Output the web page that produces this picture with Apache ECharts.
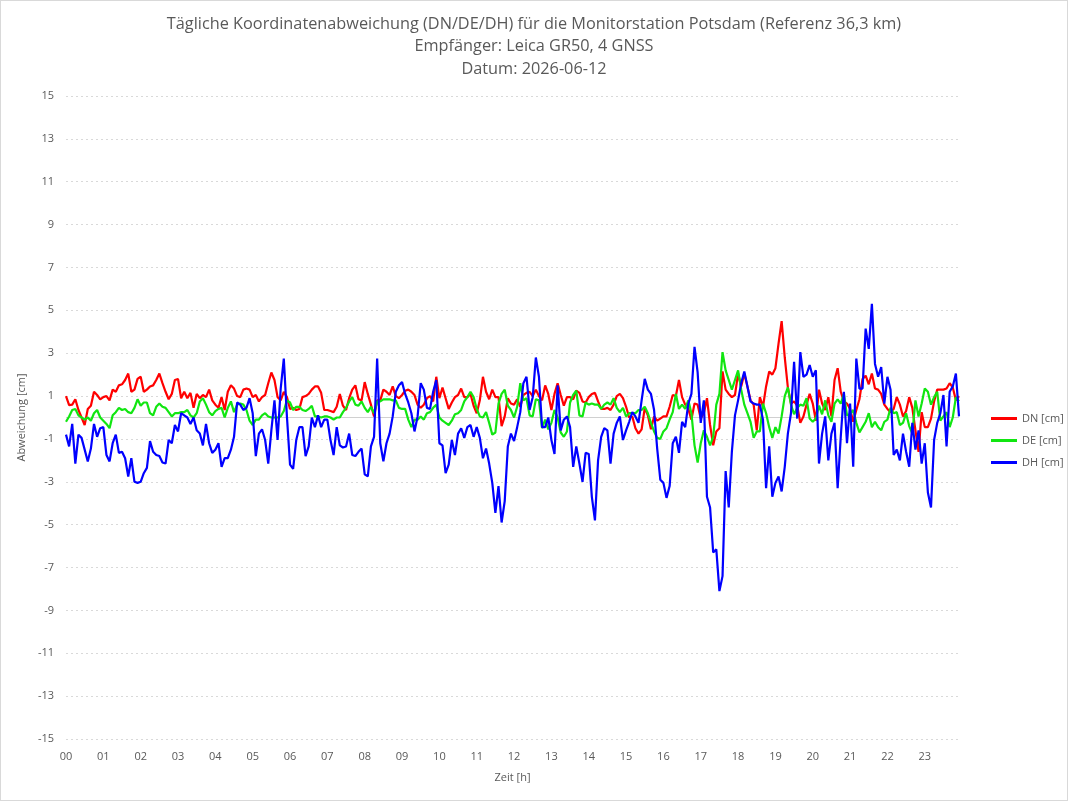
<!DOCTYPE html>
<html>
<head>
<meta charset="utf-8">
<script src="https://cdn.jsdelivr.net/npm/echarts@6/dist/echarts.min.js"></script>
<style>
  html, body { margin: 0; padding: 0; background: #fff; }
  #chart { width: 1068px; height: 801px; box-sizing: border-box; border: 1px solid #d9d9d9; }
</style>
</head>
<body>
<div id="chart"></div>
<script>
// 5-Minuten-Werte, 288 je Reihe
const DN = [
  1.0, 0.58, 0.6, 0.85, 0.35, 0, -0.35, 0.4, 0.55, 1.2, 1.05, 0.85, 0.95, 1.0, 0.8, 1.3, 1.2, 1.5, 1.55, 1.75, 2.05, 1.2, 1.3, 1.8,
  1.9, 1.2, 1.3, 1.45, 1.5, 1.75, 2.05, 1.6, 1.2, 0.85, 1.1, 1.75, 1.8, 0.9, 1.2, 0.9, 1.15, 0.45, 1.1, 0.9, 1.05, 0.95, 1.3,
  0.8, 0.6, 0.45, 0.95, 0.35, 1.2, 1.5, 1.35, 1.0, 0.95, 1.3, 1.35, 1.3, 0.95, 1.05, 0.75, 0.95, 1.05, 1.6, 2.1, 1.75, 0.95, 0.8,
  1.2, 0.95, 0.4, 0.45, 0.35, 0.4, 0.95, 1.0, 1.1, 1.3, 1.45, 1.45, 1.15, 0.35, 0.35, 0.3, 0.25, 0.5, 1.1, 0.55, 0.35, 0.9, 1.3,
  1.5, 0.85, 0.8, 1.65, 1.1, 0.6, 0.05, 0.8, 0.8, 1.3, 1.2, 1.05, 1.45, 1.0, 0.9, 1.05, 1.25, 1.3, 1.2, 1.05, 0.6, 0.45, 0.6,
  0.9, 1.0, 0.75, 1.9, 0.9, 1.4, 0.9, 0.4, 0.7, 0.95, 1.05, 1.35, 0.95, 0.95, 1.1, 0.55, 0.2, 0.8, 1.9, 1.2, 0.85, 1.3, 0.95, 0.95,
  -0.4, 0.05, 0.9, 0.65, 0.6, 0.85, 0.5, 1.05, 1.15, 1.2, 1.0, 1.3, 1.0, 0.8, 1.5, 1.1, 0.35, 1.1, 1.6, 1.05, 0.55, 0.95, 0.95,
  0.85, 1.25, 1.15, 0.75, 0.7, 0.95, 1.1, 1.15, 0.75, 0.4, 0.4, 0.45, 0.35, 0.6, 1.0, 1.1, 0.9, 0.5, 0, 0.05, -0.5, -0.75, -0.55,
  0.45, 0.1, -0.55, 0.05, -0.15, -0.05, 0.05, 0.05, 0.5, 1.05, 1.0, 1.75, 0.95, 0.6, 0.4, -0.1, 0.65, 0.6, -0.05, 0.2, 0.9, -0.35,
  -1.3, -0.65, -0.5, 2.15, 1.3, 1.1, 0.95, 1.05, 2.05, 1.45, 2.05, 1.45, 0.8, 0.6, -0.6, 0.95, 0.5, 1.45, 2.15, 2.0, 2.3, 3.45, 4.5, 2.8, 1.4,
  0.65, 0.75, 0.55, -0.25, 0.05, 0.6, 1.1, 0.65, -0.15, 1.3, 0.65, 0.35, 0.95, 0.05, 1.75, 2.3, 1.2, 0.75, 0.65, 0.4, -0.2, 0.35,
  0.85, 1.8, 1.95, 1.55, 2.05, 1.35, 1.3, 1.1, 0.6, 0.4, 0.25, 0.4, 0.95, 0.6, 0.05, 0.3, 0.95, 0.45, -0.6, -1.6, 0.25, -0.45,
  -0.45, -0.05, 0.75, 1.3, 1.3, 1.3, 1.35, 1.6, 1.4, 0.8, 1.0
];
const DE = [
  -0.2, 0.05, 0.35, 0.4, 0.1, 0, -0.1, 0, -0.15, 0.2, 0.35, 0, -0.15, -0.3, -0.5, 0.1, 0.25, 0.45, 0.35, 0.4, 0.25, 0.2, 0.45, 0.85,
  0.55, 0.7, 0.7, 0.2, 0.1, 0.5, 0.65, 0.5, 0.45, 0.25, 0.05, 0.2, 0.2, 0.25, 0.25, 0.35, 0.1, 0, 0.2, 0.75, 0.9, 0.6, 0.25,
  0.1, 0.3, 0.4, 0.45, 0, 0.45, 0.75, 0.25, 0.6, 0.65, 0.6, 0.35, -0.15, -0.35, -0.1, -0.1, 0.1, 0.2, 0.05, 0, 0, 0, 0.05,
  0.3, 0.8, 0.7, 0.35, 0.5, 0.5, 0.35, 0.3, 0.4, 0.55, 0.05, 0.05, 0, 0.05, 0.05, 0, -0.1, 0, 0, 0.25, 0.45, 0.75, 0.95,
  0.6, 0.55, 0.75, 0.45, 0.25, 0.5, 0.2, 0.75, 0.75, 0.85, 0.85, 0.85, 0.8, 0.8, 0.45, 0.4, 0.4, -0.1, -0.45, -0.1, -0.1, 0.05, -0.1,
  0.2, 0.25, 0.45, 0.6, 0, -0.15, -0.25, -0.35, -0.15, 0.15, 0.2, 0.35, 0.75, 0.95, 1.2, 0.95, 0.4, 0.05, 0, 0.25, -0.25, -0.8, -0.7, 0.65,
  1.1, 1.3, 0.55, 0.35, 0, 0.5, 1.6, 0.8, 0.9, 0.1, 0.05, 0.85, 0.8, -0.5, -0.1, -0.55, -0.25, 0.35, 0, -0.7, -0.9, -0.65, 0.7,
  1.05, 1.25, 0.1, 0.05, 0.7, 0.6, 0.65, 0.6, 0.6, 0.4, 0.6, 0.7, 0.6, 0.9, 0.45, 0.25, 0.45, 0.05, 0.2, 0.2, 0.2, 0.35, 0.35,
  0.5, 0.2, -0.25, -0.65, -0.95, -1.0, -0.65, -0.5, -0.1, 0.25, 1.1, 0.4, 0.6, 0.4, 0.8, 0.2, -1.3, -2.1, -1.2, -0.6, -0.9, -1.3,
  -0.9, 0.6, 1.1, 3.05, 2.2, 1.75, 1.3, 1.75, 2.2, 1.3, 0.6, 0.2, -0.2, -0.95, -0.65, -0.65, 0.65, 0.2, -0.45, -0.95, -0.45, -0.75, 0.05, 1.0, 1.4,
  0.6, 0.15, 0.45, 0.6, 0.55, 0.9, -0.05, -0.2, -0.05, 0.55, 0.15, 0.8, 0.1, -0.2, 0.65, 0.85, 0.65, 1.1, 0.1, 0.15, 0.35, -0.25,
  -0.7, -0.45, -0.2, 0.2, -0.45, -0.2, -0.45, -0.6, -0.2, -0.1, 0.45, 0.2, 0.25, -0.35, -0.25, 0.2, -0.4, -0.75, 0.8, 0.05, 0.65,
  1.35, 1.2, 0.6, 0.95, 1.2, -0.15, 0.05, 0.25, -0.45, 0, 0.95, 0.75
];
const DH = [
  -0.8, -1.35, -0.3, -2.15, -0.8, -0.95, -1.5, -2.05, -1.45, -0.3, -0.9, -0.5, -0.45, -1.75, -2.05, -1.2, -0.8, -1.65, -1.6, -1.9,
  -2.75, -1.9, -3.0, -3.05, -3.0, -2.6, -2.35, -1.1, -1.6, -1.75, -1.8, -2.1, -2.15, -1.05, -1.2, -0.35, -0.65, 0.2, 0.1, 0, -0.3,
  0, -0.6, -0.75, -1.3, -0.3, -1.2,
  -1.65, -1.5, -1.2, -2.3, -1.9, -1.9, -1.5, -0.9, 0.7, 0.6, 0.35, 0.45, 0.9, 0.2, -1.8, -0.75, -0.55, -1.05, -2.15, -0.6, 0.8,
  -1.05, 1.35, 2.75, 0.05, -2.2, -2.4, -1.05, -0.45, -0.45, -1.8, -1.35, 0, -0.45, 0.1, -0.45, -0.1, -0.1, -1.05, -1.75, -0.45,
  -1.3, -1.4, -1.35, -0.75, -1.75,
  -1.8, -1.6, -1.45, -2.65, -2.75, -1.35, -0.9, 2.75, -1.2, -2.05, -1.2, -0.75, 0.05, 1.2, 1.5, 1.65, 1.1, 0.7, 0.2, -0.65, 0.05,
  1.6, 1.3, 0.45, 0.4, 1.2, 1.75, -1.2, -1.3, -2.6, -2.2, -1.05, -1.75, -0.75, -0.5, -0.95, -0.45, -0.35, -0.9, -0.45, -0.95, -1.9,
  -1.45, -2.15, -3.05, -4.45, -3.2,
  -4.9, -3.9, -1.35, -0.75, -1.1, -0.45, 0.25, 1.6, 1.9, 0.35, 0.95, 2.8, 1.9, -0.45, -0.45, 0, -1.05, -1.7, 1.5, -0.6, -0.1, 0.05,
  -0.45, -2.3, -1.35, -2.15, -3.0, -1.65, -1.7, -3.7, -4.8, -2.0, -0.9, -0.5, -0.6, -2.15, -0.75, -0.25, 0.05, -1.05, -0.6, -0.2,
  0.25, 0.05, -0.25, 0.8,
  1.8, 1.3, 1.1, 0.35, -1.45, -2.9, -3.05, -3.75, -3.2, -1.2, -0.9, -1.65, -0.2, -0.45, 0.65, 1.1, 3.3, 2.1, -0.25, 0.8, -3.7, -4.2,
  -6.3, -6.15, -8.1, -7.4, -2.5, -4.2, -1.6, 0.1, 0.8, 1.6, 2.15, 1.45, 0.75, 0.65, 0.6, 0.6, -0.1, -3.3, -1.35, -3.7, -3.05, -2.75,
  -3.45, -2.3, -0.75,
  0.2, 2.6, -0.05, 3.05, 1.9, 2.0, 2.45, 1.9, 2.2, -2.15, -0.75, 0.05, -2.0, -0.75, -0.25, -3.3, -0.9, 1.2, -1.2, 0.65, -2.3, 2.75,
  1.35, 1.35, 4.15, 3.2, 5.3, 2.5, 1.9, 2.35, 0.65, 1.9, 1.3, -1.75, -1.5, -2.0, -0.75, -1.6, -2.3, -0.25, -1.5, -0.6, -2.15, -1.2,
  -3.5, -4.2, -1.05, -0.25, 0.2, 1.05, -1.35, 1.2, 1.45, 2.05, 0.05
];
const seriesNames = ['DN [cm]', 'DE [cm]', 'DH [cm]'];
const seriesColors = ['#ff0000', '#11e611', '#0000ff'];
const hourLabels = ['00','01','02','03','04','05','06','07','08','09','10','11','12','13','14','15','16','17','18','19','20','21','22','23'];
const yTicks = [-15, -13, -11, -9, -7, -5, -3, -1, 1, 3, 5, 7, 9, 11, 13, 15];

// Zeitachse: 5-Minuten-Schritte
const times = [];
hourLabels.forEach(h => {
  for (let m = 0; m < 60; m += 5) times.push(h + ':' + String(m).padStart(2, '0'));
});

const font = 'Open Sans, Liberation Sans, sans-serif';
const grey = '#595959';

const myChart = echarts.init(document.getElementById('chart'));
const option = {
  backgroundColor: '#fff',
  animation: false,
  title: {
    text: 'Tägliche Koordinatenabweichung (DN/DE/DH) für die Monitorstation Potsdam (Referenz 36,3 km)\nEmpfänger: Leica GR50, 4 GNSS\nDatum: 2026-06-12',
    left: 'center',
    top: 7,
    textStyle: { color: grey, fontSize: 16.3, fontWeight: 'normal', fontFamily: font, lineHeight: 22.5 }
  },
  legend: {
    orient: 'vertical',
    left: 985,
    top: 407,
    icon: 'rect',
    itemWidth: 26,
    itemHeight: 3,
    itemGap: 11,
    textStyle: { color: grey, fontSize: 11, fontFamily: font },
    data: seriesNames
  },
  grid: { left: 65, right: 108, top: 95, bottom: 61, containLabel: false },
  xAxis: {
    type: 'category',
    data: times,
    boundaryGap: false,
    name: 'Zeit [h]',
    nameLocation: 'middle',
    nameGap: 33,
    nameTextStyle: { color: grey, fontSize: 11, fontFamily: font },
    axisLine: { show: false, onZero: false },
    axisTick: { show: false },
    axisLabel: {
      interval: 11,
      margin: 12,
      color: grey,
      fontSize: 11,
      fontFamily: font,
      formatter: v => v.slice(0, 2)
    },
    splitLine: { show: false }
  },
  yAxis: {
    type: 'value',
    min: yTicks[0],
    max: yTicks[yTicks.length - 1],
    interval: 2,
    name: 'Abweichung [cm]',
    nameLocation: 'middle',
    nameGap: 35,
    nameTextStyle: { color: grey, fontSize: 11, fontFamily: font },
    axisLine: { show: false },
    axisTick: { show: false },
    axisLabel: { color: grey, fontSize: 11, fontFamily: font, margin: 12 },
    splitLine: { show: true, lineStyle: { color: '#d9d9d9', type: [2, 3], width: 1 } }
  },
  series: [DN, DE, DH].map((d, i) => ({
    name: seriesNames[i],
    type: 'line',
    data: d,
    showSymbol: false,
    symbol: 'none',
    color: seriesColors[i],
    lineStyle: { width: 2.2, color: seriesColors[i] },
    z: 3 + i,
    markLine: i === 0 ? {
      silent: true,
      symbol: 'none',
      label: { show: false },
      lineStyle: { color: '#d0d0d0', type: 'solid', width: 1 },
      data: [{ yAxis: 0 }],
      z: 1
    } : undefined
  }))
};
myChart.setOption(option);
</script>
</body>
</html>
